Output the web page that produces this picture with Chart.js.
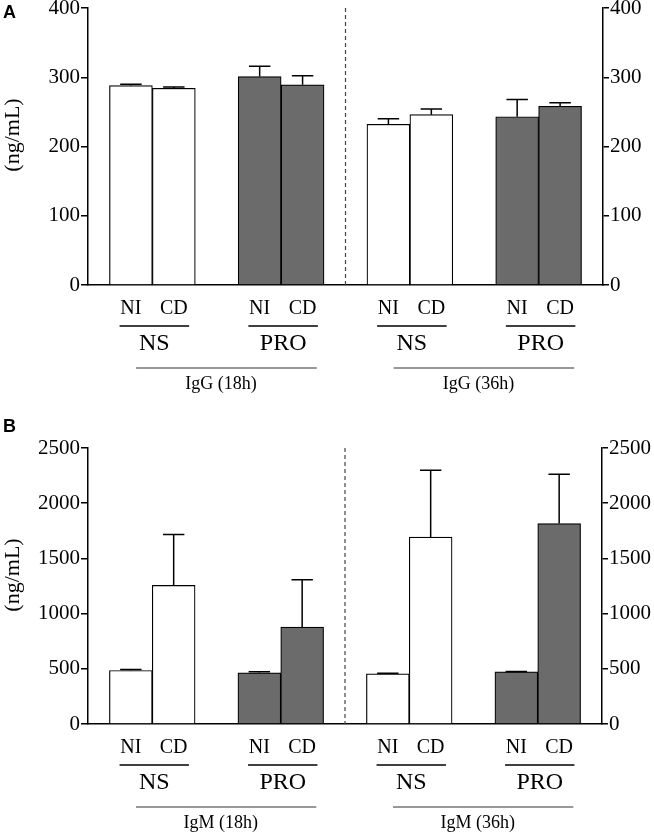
<!DOCTYPE html>
<html><head><meta charset="utf-8">
<script src="https://cdn.jsdelivr.net/npm/chart.js@4.4.1/dist/chart.umd.min.js"></script>
<style>
html,body{margin:0;padding:0;background:#fff;width:654px;height:835px;overflow:hidden;position:relative}
canvas{position:absolute;left:0}
#cA{top:-6px}
#cB{top:400px}
</style></head><body>
<canvas id="cA" width="654" height="406"></canvas>
<canvas id="cB" width="654" height="435"></canvas>
<script>
// ---- data ----
const conditions = ['NI', 'CD'];
const stimuli = ['NS', 'PRO', 'NS', 'PRO'];
const timesA = ['IgG (18h)', 'IgG (36h)'];
const timesB = ['IgM (18h)', 'IgM (36h)'];
const iggMean = [288, 284, 301, 289, 232, 246, 243, 258];
const iggSem  = [2, 2, 15, 13, 8, 8, 25, 5];
const igmMean = [485, 1255, 464, 878, 455, 1692, 473, 1816];
const igmSem  = [9, 462, 9, 428, 4, 607, 3, 446];
const yTicksA = [0, 100, 200, 300, 400];
const yTicksB = [0, 500, 1000, 1500, 2000, 2500];
const yTitle = '(ng/mL)';

const SERIF = "'Liberation Serif', 'Times New Roman', serif";
const fillFor = {NS: '#ffffff', PRO: '#6b6b6b'};

function buildLabels() {
  const out = [];
  stimuli.forEach(() => { out.push(''); conditions.forEach(c => out.push(c)); });
  out.push('');
  return out;
}
function expand(vals) {
  const out = []; let k = 0;
  stimuli.forEach(() => { out.push(null); conditions.forEach(() => out.push(vals[k++])); });
  out.push(null);
  return out;
}
function expandFill() {
  const out = [];
  stimuli.forEach(s => { out.push('#fff'); conditions.forEach(() => out.push(fillFor[s])); });
  out.push('#fff');
  return out;
}

function makePanel(canvasId, cfg) {
  const labels = buildLabels();
  const data = expand(cfg.mean);
  const errs = expand(cfg.sem);
  const ticks = cfg.yTicks;

  const annot = {
    id: 'annot_' + canvasId,
    afterDatasetsDraw(chart) {
      const ctx = chart.ctx;
      const y = chart.scales.y;
      const meta = chart.getDatasetMeta(0);
      ctx.save();
      ctx.strokeStyle = '#000';
      ctx.lineWidth = 1.5;
      meta.data.forEach((bar, i) => {
        const v = data[i];
        if (v == null) return;
        const top = y.getPixelForValue(v + errs[i]);
        const hw = bar.width / 4;
        ctx.beginPath();
        ctx.moveTo(bar.x, bar.y);
        ctx.lineTo(bar.x, top);
        ctx.moveTo(bar.x - hw, top);
        ctx.lineTo(bar.x + hw, top);
        ctx.stroke();
      });
      ctx.restore();
    },
    afterDraw(chart) {
      const ctx = chart.ctx;
      const xs = chart.scales.x;
      const area = chart.chartArea;
      const base = area.bottom;
      const slot = xs.getPixelForValue(1) - xs.getPixelForValue(0);
      ctx.save();
      // dashed separator between time points
      const sepIdx = 3 * (stimuli.length / 2);
      const sx = xs.getPixelForValue(sepIdx);
      ctx.strokeStyle = '#444';
      ctx.lineWidth = 1.2;
      ctx.setLineDash([4, 3]);
      ctx.beginPath();
      ctx.moveTo(sx, area.top);
      ctx.lineTo(sx, base);
      ctx.stroke();
      ctx.setLineDash([]);

      // stimulus group lines + labels
      ctx.fillStyle = '#000';
      ctx.textAlign = 'center';
      ctx.textBaseline = 'middle';
      stimuli.forEach((s, g) => {
        const c = (xs.getPixelForValue(1 + 3 * g) + xs.getPixelForValue(2 + 3 * g)) / 2 + 2;
        const half = 0.81 * slot;
        ctx.strokeStyle = '#000';
        ctx.lineWidth = 1.5;
        ctx.beginPath();
        ctx.moveTo(c - half, base + 41);
        ctx.lineTo(c + half, base + 41);
        ctx.stroke();
        ctx.font = '24px ' + SERIF;
        ctx.fillText(s, c, base + 59);
      });
      // time-point lines + labels
      cfg.times.forEach((t, k) => {
        const x1 = xs.getPixelForValue(1.12 + 6 * k);
        const x2 = xs.getPixelForValue(5.33 + 6 * k);
        const xc = xs.getPixelForValue(3.1 + 6 * k);
        ctx.strokeStyle = '#333';
        ctx.lineWidth = 1.2;
        ctx.beginPath();
        ctx.moveTo(x1, base + 83);
        ctx.lineTo(x2, base + 83);
        ctx.stroke();
        ctx.font = '18px ' + SERIF;
        ctx.fillText(t, xc, base + 99);
      });

      // y title
      ctx.save();
      ctx.translate(13, area.top + 127);
      ctx.rotate(-Math.PI / 2);
      ctx.font = '22px ' + SERIF;
      ctx.fillText(yTitle, 0, 0);
      ctx.restore();

      // panel letter
      ctx.textAlign = 'left';
      ctx.textBaseline = 'alphabetic';
      ctx.font = "bold 18px 'Liberation Sans', Arial, sans-serif";
      ctx.fillText(cfg.letter, 3, cfg.letterBaseline);
      ctx.restore();
    }
  };

  const yCommon = (pos, w, tl) => ({
    type: 'linear',
    position: pos,
    min: ticks[0],
    max: ticks[ticks.length - 1],
    afterBuildTicks: s => { s.ticks = ticks.map(v => ({value: v})); },
    afterFit: s => { s.width = w; },
    border: {display: true, color: '#000', width: 1.5},
    grid: {display: true, drawOnChartArea: false, drawTicks: true, tickLength: tl, color: '#000', lineWidth: 1.5},
    ticks: {color: '#000', padding: 1, font: {family: SERIF, size: 21}, callback: v => String(v)}
  });

  return new Chart(document.getElementById(canvasId), {
    type: 'bar',
    data: {
      labels: labels,
      datasets: [{
        data: data,
        backgroundColor: expandFill(),
        borderColor: '#000',
        borderWidth: 1.2,
        categoryPercentage: 1,
        barPercentage: 1
      }]
    },
    options: {
      responsive: false,
      animation: false,
      devicePixelRatio: 1,
      events: [],
      layout: {padding: {top: cfg.padTop, left: 0, right: 0, bottom: 0}},
      plugins: {legend: {display: false}, tooltip: {enabled: false}},
      scales: {
        x: {
          type: 'category',
          offset: false,
          afterFit: s => { s.height = cfg.xHeight; },
          border: {display: true, color: '#000', width: 1.5},
          grid: {display: false},
          ticks: {color: '#000', padding: 4, autoSkip: false, maxRotation: 0, font: {family: SERIF, size: 20}}
        },
        y: yCommon('left', 88, 7),
        y2: yCommon('right', cfg.rightW, 6)
      }
    },
    plugins: [annot]
  });
}

makePanel('cA', {mean: iggMean, sem: iggSem, yTicks: yTicksA, times: timesA, letter: 'A',
  letterBaseline: 24, padTop: 14, xHeight: 115, rightW: 51});
makePanel('cB', {mean: igmMean, sem: igmSem, yTicks: yTicksB, times: timesB, letter: 'B',
  letterBaseline: 32, padTop: 48, xHeight: 111, rightW: 52});
</script>
</body></html>
